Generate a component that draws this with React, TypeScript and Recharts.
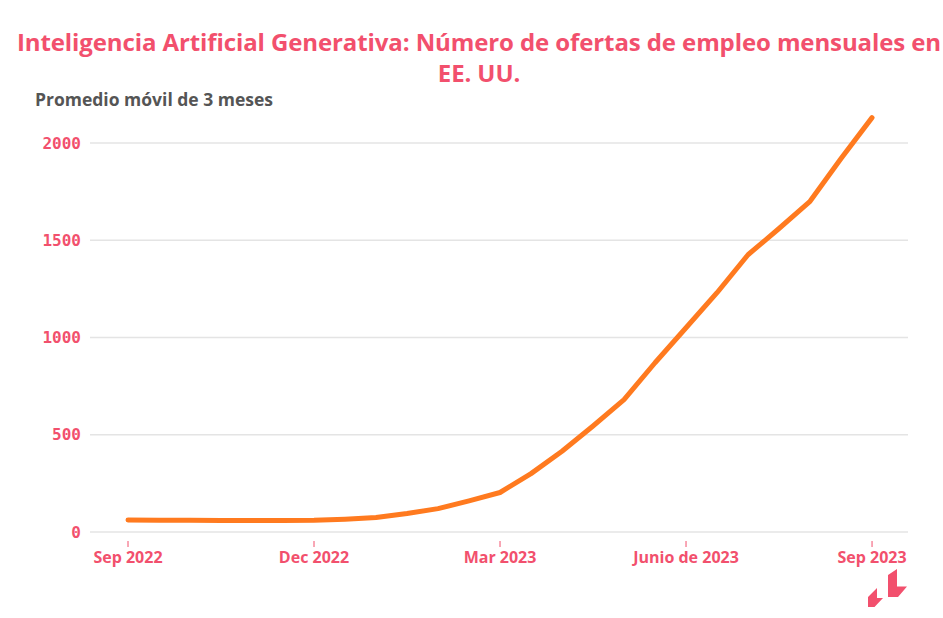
import React from 'react'
import { LineChart, Line, XAxis, YAxis, CartesianGrid } from 'recharts'

// months since Sep 2022, sampled every half month
const months = [0, 0.5, 1, 1.5, 2, 2.5, 3, 3.5, 4, 4.5, 5, 5.5, 6, 6.5, 7, 7.5, 8, 8.5, 9, 9.5, 10, 10.5, 11, 11.5, 12]
const offers = [62, 61, 60, 59, 59, 59, 60, 66, 75, 95, 120, 160, 203, 300, 415, 545, 680, 870, 1050, 1230, 1425, 1560, 1700, 1920, 2130]

const xTicks = [0, 3, 6, 9, 12]
const xTickLabels = ['Sep 2022', 'Dec 2022', 'Mar 2023', 'Junio de 2023', 'Sep 2023']
const yTicks = [0, 500, 1000, 1500, 2000]

const data = months.map((m, i) => ({ m, v: offers[i] }))

const PINK = '#f2506d'

function XTick(props: any) {
  const { x, y, payload } = props
  const i = xTicks.indexOf(payload.value)
  return (
    <g>
      <line x1={x} x2={x} y1={y + 9} y2={y + 15} stroke={PINK} strokeWidth={1} />
      <text x={x} y={y + 31} textAnchor="middle" fill={PINK} fontSize={16} fontWeight={700} fontFamily="'Open Sans', sans-serif">
        {xTickLabels[i]}
      </text>
    </g>
  )
}

export default function App() {
  return (
    <div style={{ position: 'absolute', left: 0, top: 0, width: 943, height: 618, background: '#fff', fontFamily: "'Open Sans', sans-serif" }}>
      <div style={{ position: 'absolute', left: 0, top: 26, width: 958, textAlign: 'center', color: PINK, fontWeight: 700, fontSize: 24, lineHeight: '31px', letterSpacing: -0.1, whiteSpace: 'nowrap' }}>
        Inteligencia Artificial Generativa: Número de ofertas de empleo mensuales en
        <br />
        EE. UU.
      </div>
      <div style={{ position: 'absolute', left: 35, top: 87, color: '#555', fontWeight: 700, fontSize: 17.5 }}>
        Promedio móvil de 3 meses
      </div>
      <div style={{ position: 'absolute', left: 0, top: 0 }}>
        <LineChart width={943} height={618} data={data} margin={{ top: 104, right: 35, bottom: 46, left: 0 }}>
          <CartesianGrid vertical={false} stroke="#e4e4e4" strokeWidth={1.5} horizontalValues={yTicks} />
          <XAxis
            dataKey="m"
            type="number"
            domain={[-0.613, 12.58]}
            ticks={xTicks}
            tick={<XTick />}
            tickLine={false}
            axisLine={false}
            tickSize={0}
            tickMargin={0}
            height={40}
            interval={0}
          />
          <YAxis
            type="number"
            domain={[0, 2200]}
            ticks={yTicks}
            width={90}
            axisLine={false}
            tickLine={false}
            tickSize={0}
            tickMargin={9}
            tick={{ fill: PINK, fontSize: 16, fontWeight: 700, fontFamily: "'DejaVu Sans Mono', monospace" }}
          />
          <Line type="linear" dataKey="v" stroke="#ff7a1f" strokeWidth={5} dot={false} isAnimationActive={false} strokeLinejoin="round" strokeLinecap="round" />
        </LineChart>
      </div>
      <svg style={{ position: 'absolute', left: 860, top: 560 }} width={50} height={50}>
        <polygon points="28,15 37,9 37,26.5 47,26.5 38,37 28,37" fill={PINK} />
        <polygon points="8,37 17,28 17,38 23,38 14.5,47 8,47" fill={PINK} />
      </svg>
    </div>
  )
}
